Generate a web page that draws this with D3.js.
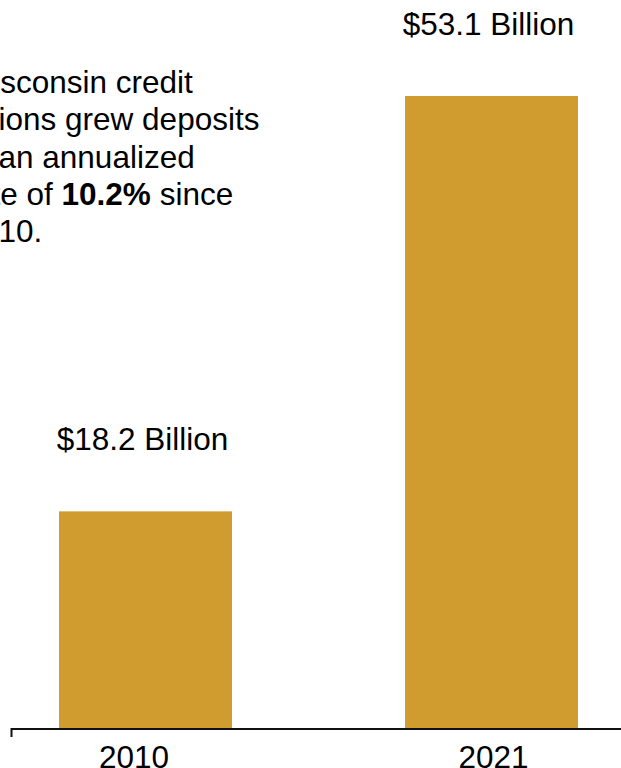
<!DOCTYPE html>
<html>
<head>
<meta charset="utf-8">
<script src="https://cdn.jsdelivr.net/npm/d3@7"></script>
<style>
  html, body { margin: 0; padding: 0; background: #fff; }
  svg { display: block; font-family: "Liberation Sans", Arial, sans-serif; }
</style>
</head>
<body>
<svg id="chart" width="621" height="768"></svg>
<script>
// data
const years = ["2010", "2021"];
const deposits = [18.2, 53.1];            // billions of dollars
const valueLabels = ["$18.2 Billion", "$53.1 Billion"];
const noteLines = [
  [{ t: "Wisconsin credit" }],
  [{ t: "unions grew deposits" }],
  [{ t: "at an annualized" }],
  [{ t: "rate of " }, { t: "10.2%", bold: true }, { t: " since" }],
  [{ t: "2010." }]
];

var svg = d3.select("#chart"),
    baseY = 728,
    fontSize = 31.5,
    barColor = "#D09B2F";

var x = d3.scaleBand()
    .domain(years)
    .range([59, 578])
    .paddingInner(0.5);

var y = d3.scaleLinear()
    .domain([0, d3.max(deposits)])
    .range([baseY, 96]);

// year labels sit a little off the bar centres in the original
var xLab = d3.scalePoint()
    .domain(years)
    .range([133.5, 493]);

var data = years.map(function (yr, i) {
  return { year: yr, value: deposits[i], label: valueLabels[i] };
});

svg.append("g")
  .selectAll("rect")
  .data(data)
  .join("rect")
    .attr("x", d => x(d.year))
    .attr("y", d => y(d.value))
    .attr("width", x.bandwidth())
    .attr("height", d => baseY - y(d.value))
    .attr("fill", barColor);

svg.append("g")
  .selectAll("text")
  .data(data)
  .join("text")
    .attr("x", d => x(d.year) + x.bandwidth() / 2 - 3)
    .attr("y", d => y(d.value) - 61)
    .attr("text-anchor", "middle")
    .attr("font-size", fontSize)
    .attr("fill", "#000")
    .text(d => d.label);

// x axis
var axis = svg.append("g")
    .attr("transform", "translate(0," + (baseY + 1) + ")")
    .call(d3.axisBottom(xLab).tickSize(0).tickPadding(17));
axis.select(".domain").remove();
axis.selectAll("text")
    .attr("font-size", fontSize)
    .attr("font-family", "Liberation Sans, Arial, sans-serif")
    .attr("fill", "#000")
    .attr("dy", "0.71em");

axis.append("path")
    .attr("d", "M11.5,8V0H625")
    .attr("fill", "none")
    .attr("stroke", "#111")
    .attr("stroke-width", 2);

// annotation, runs off the left edge like the source
var note = svg.append("text")
    .attr("font-size", fontSize)
    .attr("fill", "#000");

noteLines.forEach(function (line, i) {
  var ln = note.append("tspan")
      .attr("x", -36.5)
      .attr("y", 93 + i * 37.25);
  line.forEach(function (part) {
    ln.append("tspan")
      .attr("font-weight", part.bold ? "bold" : null)
      .text(part.t);
  });
});
</script>
</body>
</html>
